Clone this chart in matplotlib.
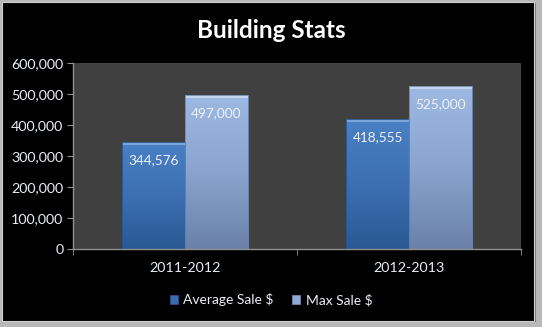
import numpy as np
import matplotlib
matplotlib.use("Agg")
import matplotlib.pyplot as plt
from matplotlib.colors import LinearSegmentedColormap
from matplotlib.patches import Rectangle
from matplotlib.ticker import FuncFormatter

# datos
categories = ["2011-2012", "2012-2013"]
avg_sale = [344576, 418555]
max_sale = [497000, 525000]
series_names = ["Average Sale $", "Max Sale $"]
y_ticks = [0, 100000, 200000, 300000, 400000, 500000, 600000]

plt.rcParams['font.family'] = ['Lato', 'DejaVu Sans']

fig = plt.figure(figsize=(5.42, 3.27), dpi=100)
fig.patch.set_facecolor('#b8b8b8')

# marco negro con sombra
fig.patches.append(Rectangle((3 / 542, 5 / 327), 533 / 542, 319 / 327,
                             transform=fig.transFigure, facecolor='#7a7a7a',
                             edgecolor='none', zorder=0))
fig.patches.append(Rectangle((2 / 542, 6 / 327), 532 / 542, 319 / 327,
                             transform=fig.transFigure, facecolor='black',
                             edgecolor='#d0d0d0', linewidth=0.8, zorder=1))

ax = fig.add_axes([73 / 542, 78 / 327, 448 / 542, 186 / 327])
ax.set_facecolor('#404040')
ax.set_zorder(2)

x = np.arange(len(categories))
w = 0.28

bars_avg = ax.bar(x - w / 2, avg_sale, w, color='#3a6dae', edgecolor='#2a528a',
                  linewidth=0.6, label=series_names[0], zorder=2)
bars_max = ax.bar(x + w / 2, max_sale, w, color='#8ea8d2', edgecolor='#6f86aa',
                  linewidth=0.6, label=series_names[1], zorder=2)

# degradado vertical dentro de cada barra
cmap_avg = LinearSegmentedColormap.from_list('avg', ['#2a5994', '#3c70b2', '#4a80c4'])
cmap_max = LinearSegmentedColormap.from_list('max', ['#6a82aa', '#8aa4cf', '#9db9e2'])
grad = np.linspace(0, 1, 100).reshape(-1, 1)
for bars, cmap, top_col in [(bars_avg, cmap_avg, '#8fb6e8'), (bars_max, cmap_max, '#d6e4f8')]:
    for b in bars:
        bx, by, bw, bh = b.get_x(), b.get_y(), b.get_width(), b.get_height()
        im = ax.imshow(grad, extent=[bx, bx + bw, by, by + bh], origin='lower',
                       cmap=cmap, aspect='auto', zorder=2.1)
        im.set_clip_path(b)
        ax.add_patch(Rectangle((bx, by + bh - 9000), bw, 9000, facecolor=top_col,
                               edgecolor='none', alpha=0.7, zorder=2.2))
        ax.add_patch(Rectangle((bx, by), bw, bh, facecolor='none',
                               edgecolor=b.get_edgecolor(), linewidth=0.6, zorder=2.3))

ax.set_xlim(-0.5, 1.5)
ax.set_ylim(0, 600000)

# etiquetas dentro de las barras
for bars, vals in [(bars_avg, avg_sale), (bars_max, max_sale)]:
    for b, v in zip(bars, vals):
        ax.annotate(f"{v:,}", (b.get_x() + b.get_width() / 2, v),
                    xytext=(0, -13), textcoords='offset points',
                    ha='center', va='center', color='#eef3fa', fontsize=9.8, zorder=3)

ax.set_yticks(y_ticks)
ax.yaxis.set_major_formatter(FuncFormatter(lambda v, p: f"{int(v):,}"))
ax.set_xticks(x)
ax.set_xticklabels(categories)
ax.set_xticks([-0.5, 0.5, 1.5], minor=True)
ax.tick_params(axis='x', which='major', length=0, pad=9, labelsize=10.3, labelcolor='#e8eef6')
ax.tick_params(axis='x', which='minor', length=4, color='#909090', direction='out')
ax.tick_params(axis='y', length=4, color='#909090', direction='out', labelsize=10.3,
               labelcolor='#e8eef6', pad=3)

for s in ['top', 'right']:
    ax.spines[s].set_visible(False)
for s in ['left', 'bottom']:
    ax.spines[s].set_color('#909090')
    ax.spines[s].set_linewidth(1.0)

fig.text(0.5, 1 - 30 / 327, "Building Stats", ha='center', va='center',
         color='white', fontsize=17.5, fontweight='bold')

leg = fig.legend(handles=[bars_avg, bars_max], loc='center', bbox_to_anchor=(0.5, 1 - 300 / 327),
                 ncol=2, frameon=False, fontsize=10, handlelength=0.6, handleheight=0.6,
                 handletextpad=0.4, columnspacing=1.3)
for t in leg.get_texts():
    t.set_color('#e8eef6')

fig.savefig("out.png", dpi=100, facecolor=fig.get_facecolor())
